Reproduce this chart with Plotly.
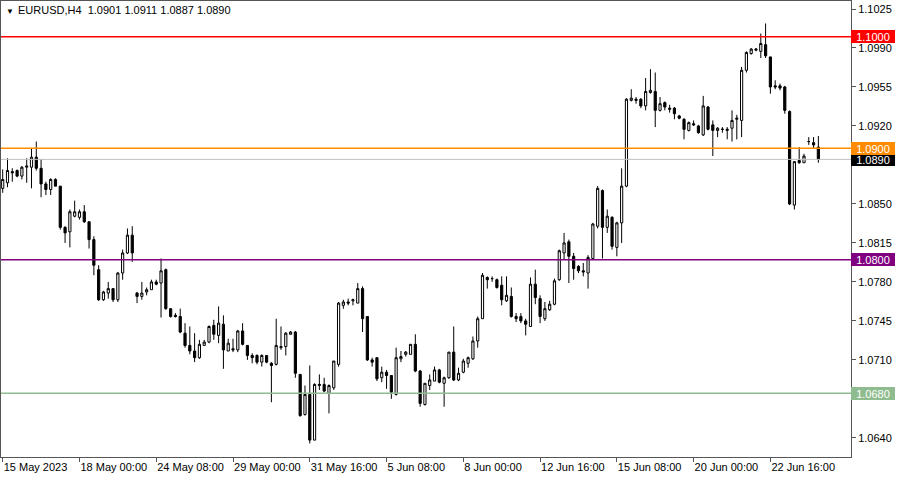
import plotly.graph_objects as go

# ---- data (EURUSD H4 candles) ----
opens = [1.0864,1.0869,1.0879,1.0880,1.0875,1.0883,1.0883,1.0892,1.0882,1.0868,
         1.0863,1.0872,1.0866,1.0829,1.0825,1.0839,1.0838,1.0843,1.0834,1.0818,
         1.0791,1.0764,1.0770,1.0774,1.0764,1.0788,1.0806,1.0822,1.0770,1.0767,
         1.0771,1.0773,1.0780,1.0779,1.0791,1.0756,1.0750,1.0749,1.0734,1.0723,
         1.0718,1.0712,1.0723,1.0726,1.0741,1.0732,1.0742,1.0718,1.0720,1.0719,
         1.0736,1.0723,1.0714,1.0714,1.0708,1.0714,1.0707,1.0706,1.0721,1.0722,
         1.0733,1.0735,1.0697,1.0661,1.0679,1.0638,1.0687,1.0688,1.0680,1.0685,
         1.0706,1.0759,1.0762,1.0763,1.0761,1.0774,1.0749,1.0710,1.0712,1.0694,
         1.0699,1.0696,1.0679,1.0711,1.0715,1.0715,1.0724,1.0700,1.0670,1.0687,
         1.0691,1.0701,1.0689,1.0694,1.0717,1.0692,1.0699,1.0707,1.0711,1.0727,
         1.0747,1.0784,1.0783,1.0782,1.0777,1.0763,1.0767,1.0749,1.0749,1.0745,
         1.0740,1.0778,1.0765,1.0747,1.0755,1.0760,1.0782,1.0806,1.0816,1.0803,
         1.0794,1.0790,1.0788,1.0801,1.0830,1.0862,1.0829,1.0838,1.0811,1.0833,
         1.0866,1.0943,1.0944,1.0944,1.0938,1.0950,1.0951,1.0934,1.0941,1.0936,
         1.0936,1.0929,1.0926,1.0916,1.0922,1.0920,1.0912,1.0937,1.0921,1.0916,
         1.0917,1.0916,1.0918,1.0926,1.0925,1.0970,1.0985,1.0988,1.0987,1.0993,
         1.0982,1.0956,1.0956,1.0955,1.0933,1.0849,1.0889,1.0887,1.0906,1.0905,
         1.0901]
highs = [1.0881,1.0891,1.0882,1.0881,1.0884,1.0891,1.0900,1.0906,1.0890,1.0870,
         1.0873,1.0873,1.0866,1.0830,1.0845,1.0853,1.0845,1.0849,1.0834,1.0821,
         1.0795,1.0772,1.0780,1.0774,1.0789,1.0809,1.0828,1.0830,1.0771,1.0780,
         1.0775,1.0782,1.0782,1.0801,1.0792,1.0756,1.0752,1.0756,1.0743,1.0740,
         1.0734,1.0728,1.0728,1.0741,1.0746,1.0758,1.0750,1.0729,1.0729,1.0737,
         1.0743,1.0723,1.0716,1.0715,1.0715,1.0714,1.0708,1.0747,1.0740,1.0735,
         1.0736,1.0736,1.0697,1.0687,1.0705,1.0689,1.0697,1.0694,1.0688,1.0709,
         1.0762,1.0764,1.0765,1.0765,1.0779,1.0776,1.0749,1.0712,1.0712,1.0704,
         1.0701,1.0696,1.0721,1.0718,1.0718,1.0724,1.0733,1.0701,1.0689,1.0697,
         1.0704,1.0702,1.0695,1.0717,1.0740,1.0703,1.0711,1.0713,1.0731,1.0749,
         1.0788,1.0785,1.0785,1.0783,1.0785,1.0785,1.0775,1.0752,1.0752,1.0747,
         1.0784,1.0791,1.0768,1.0762,1.0763,1.0783,1.0809,1.0824,1.0818,1.0806,
         1.0795,1.0797,1.0804,1.0833,1.0866,1.0863,1.0845,1.0839,1.0834,1.0882,
         1.0945,1.0953,1.0946,1.0945,1.0963,1.0971,1.0968,1.0946,1.0942,1.0939,
         1.0937,1.0930,1.0927,1.0924,1.0925,1.0921,1.0947,1.0938,1.0925,1.0919,
         1.0919,1.0919,1.0934,1.0930,1.0973,1.0987,1.0990,1.0990,1.1003,1.1012,
         1.0982,1.0961,1.0958,1.0956,1.0934,1.0888,1.0901,1.0895,1.0910,1.0910,
         1.0911]
lows = [1.0860,1.0865,1.0870,1.0874,1.0872,1.0869,1.0864,1.0880,1.0856,1.0858,
        1.0858,1.0866,1.0827,1.0815,1.0811,1.0838,1.0836,1.0833,1.0810,1.0786,
        1.0763,1.0763,1.0765,1.0762,1.0762,1.0782,1.0805,1.0798,1.0761,1.0764,
        1.0768,1.0773,1.0777,1.0748,1.0755,1.0748,1.0748,1.0734,1.0721,1.0715,
        1.0708,1.0711,1.0723,1.0725,1.0728,1.0725,1.0702,1.0718,1.0717,1.0717,
        1.0723,1.0710,1.0707,1.0706,1.0704,1.0707,1.0672,1.0705,1.0719,1.0714,
        1.0733,1.0694,1.0659,1.0660,1.0635,1.0638,1.0683,1.0681,1.0662,1.0683,
        1.0704,1.0756,1.0759,1.0759,1.0761,1.0735,1.0709,1.0704,1.0691,1.0690,
        1.0684,1.0675,1.0678,1.0708,1.0713,1.0715,1.0699,1.0668,1.0669,1.0683,
        1.0691,1.0689,1.0668,1.0693,1.0691,1.0691,1.0698,1.0703,1.0710,1.0721,
        1.0747,1.0774,1.0780,1.0774,1.0759,1.0762,1.0748,1.0744,1.0743,1.0732,
        1.0740,1.0760,1.0743,1.0745,1.0754,1.0759,1.0781,1.0800,1.0779,1.0782,
        1.0788,1.0785,1.0774,1.0800,1.0828,1.0801,1.0824,1.0809,1.0803,1.0815,
        1.0865,1.0942,1.0940,1.0936,1.0934,1.0949,1.0919,1.0933,1.0934,1.0932,
        1.0926,1.0926,1.0908,1.0915,1.0920,1.0913,1.0911,1.0916,1.0893,1.0910,
        1.0914,1.0908,1.0906,1.0908,1.0910,1.0968,1.0984,1.0987,1.0981,1.0981,
        1.0949,1.0953,1.0952,1.0931,1.0849,1.0845,1.0886,1.0887,1.0903,1.0900,
        1.0887]
closes = [1.0872,1.0880,1.0878,1.0875,1.0883,1.0884,1.0892,1.0882,1.0868,1.0863,
          1.0872,1.0866,1.0829,1.0824,1.0843,1.0843,1.0843,1.0834,1.0818,1.0795,
          1.0764,1.0771,1.0774,1.0764,1.0788,1.0806,1.0822,1.0806,1.0767,1.0770,
          1.0773,1.0780,1.0778,1.0790,1.0756,1.0749,1.0749,1.0735,1.0723,1.0718,
          1.0712,1.0724,1.0726,1.0740,1.0733,1.0743,1.0719,1.0725,1.0719,1.0736,
          1.0724,1.0714,1.0712,1.0708,1.0714,1.0708,1.0705,1.0723,1.0722,1.0734,
          1.0735,1.0698,1.0660,1.0679,1.0638,1.0688,1.0688,1.0682,1.0687,1.0709,
          1.0761,1.0762,1.0761,1.0764,1.0774,1.0747,1.0710,1.0708,1.0693,1.0699,
          1.0696,1.0681,1.0712,1.0713,1.0717,1.0724,1.0700,1.0671,1.0689,1.0692,
          1.0701,1.0690,1.0694,1.0717,1.0692,1.0698,1.0709,1.0712,1.0727,1.0747,
          1.0786,1.0782,1.0783,1.0775,1.0764,1.0768,1.0749,1.0747,1.0745,1.0742,
          1.0778,1.0766,1.0749,1.0756,1.0760,1.0781,1.0808,1.0815,1.0803,1.0792,
          1.0790,1.0789,1.0802,1.0832,1.0864,1.0829,1.0839,1.0812,1.0833,1.0866,
          1.0944,1.0945,1.0943,1.0938,1.0951,1.0952,1.0934,1.0940,1.0937,1.0935,
          1.0931,1.0927,1.0917,1.0923,1.0921,1.0914,1.0938,1.0917,1.0916,1.0918,
          1.0917,1.0917,1.0925,1.0927,1.0970,1.0986,1.0989,1.0989,1.0994,1.0983,
          1.0955,1.0955,1.0954,1.0934,1.0850,1.0888,1.0887,1.0893,1.0906,1.0903,
          1.0890]

bars = list(range(len(opens)))

tick_bars = [0, 16, 32, 48, 64, 80, 96, 112, 128, 144, 160]
tick_labels = ["15 May 2023", "18 May 00:00", "24 May 08:00", "29 May 00:00",
               "31 May 16:00", "5 Jun 08:00", "8 Jun 00:00", "12 Jun 16:00",
               "15 Jun 08:00", "20 Jun 00:00", "22 Jun 16:00"]

price_ticks = [1.0640, 1.0675, 1.0710, 1.0745, 1.0780, 1.0815, 1.0850,
               1.0885, 1.0920, 1.0955, 1.0990, 1.1025]
# labels hidden behind the level boxes in the reference
hidden_ticks = [1.0675, 1.0885]

level_prices = [1.1000, 1.0900, 1.0800, 1.0680]
level_colors = ["#ff0000", "#ff8c00", "#800080", "#8fbc8f"]
bid_price = 1.0890

title_text = "EURUSD,H4  1.0901 1.0911 1.0887 1.0890"

FONT = "Liberation Sans"

fig = go.Figure()
fig.add_trace(go.Candlestick(
    x=bars, open=opens, high=highs, low=lows, close=closes,
    increasing=dict(line=dict(color="black", width=1), fillcolor="white"),
    decreasing=dict(line=dict(color="black", width=1), fillcolor="black"),
    whiskerwidth=0, hoverinfo="skip", showlegend=False,
))

shapes = []
shapes.append(dict(type="line", xref="paper", x0=0, x1=1, yref="y",
                   y0=bid_price, y1=bid_price,
                   line=dict(color="#c0c0c0", width=1), layer="above"))
for p, c in zip(level_prices, level_colors):
    shapes.append(dict(type="line", xref="paper", x0=0, x1=1, yref="y",
                       y0=p, y1=p, line=dict(color=c, width=1.5), layer="above"))

annotations = []
annotations.append(dict(xref="paper", x=1, xanchor="left", yref="y", y=bid_price,
                        yanchor="middle", text=f"{bid_price:.4f}", showarrow=False,
                        font=dict(family=FONT, size=11, color="white"),
                        bgcolor="black", bordercolor="black", borderwidth=1,
                        borderpad=0, width=42, height=11, align="center"))
for p, c in zip(level_prices, level_colors):
    annotations.append(dict(xref="paper", x=1, xanchor="left", yref="y", y=p,
                            yanchor="middle", text=f"{p:.4f}", showarrow=False,
                            font=dict(family=FONT, size=11, color="white"),
                            bgcolor=c, bordercolor=c, borderwidth=1,
                            borderpad=0, width=42, height=11, align="center"))
annotations.append(dict(xref="paper", yref="paper", x=0, y=1, xanchor="left",
                        yanchor="top", xshift=3, yshift=-4, text="▼", showarrow=False,
                        font=dict(family=FONT, size=8, color="black")))
annotations.append(dict(xref="paper", yref="paper", x=0, y=1, xanchor="left",
                        yanchor="top", xshift=15, yshift=-1, text=title_text,
                        showarrow=False, font=dict(family=FONT, size=11, color="black")))

fig.update_layout(
    width=900, height=480,
    margin=dict(l=1, r=49, t=1, b=23),
    paper_bgcolor="white", plot_bgcolor="white",
    boxgap=0.35,
    shapes=shapes, annotations=annotations,
    showlegend=False,
    xaxis=dict(
        range=[-0.354, 176.8], rangeslider=dict(visible=False),
        tickmode="array", tickvals=tick_bars, ticktext=tick_labels,
        ticks="outside", ticklen=4, tickcolor="#555555",
        ticklabelposition="outside right",
        tickfont=dict(family=FONT, size=11, color="black"),
        showgrid=False, zeroline=False,
        showline=True, linecolor="#555555", linewidth=1, mirror=True,
        fixedrange=True,
    ),
    yaxis=dict(
        side="right", range=[1.062285, 1.103218],
        tickmode="array", tickvals=price_ticks,
        ticktext=["" if v in hidden_ticks else f"{v:.4f}" for v in price_ticks],
        ticks="outside", ticklen=4, tickcolor="#555555",
        tickfont=dict(family=FONT, size=11, color="black"),
        showgrid=False, zeroline=False,
        showline=True, linecolor="#555555", linewidth=1, mirror=True,
        fixedrange=True,
    ),
)

fig.write_html(
    "out.html",
    config={"displayModeBar": False, "staticPlot": True},
    post_script="document.body.style.margin='0px';document.body.style.overflow='hidden';",
)
